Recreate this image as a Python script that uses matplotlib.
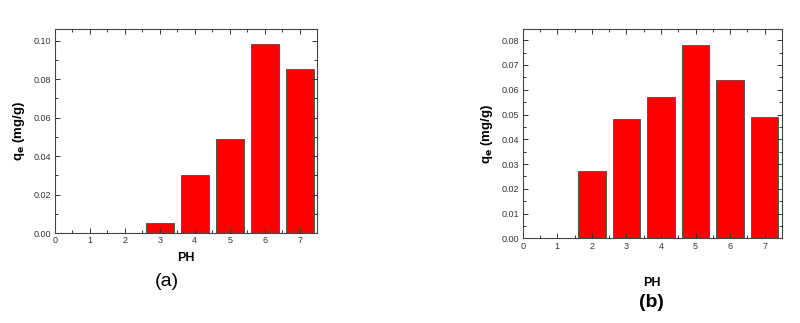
import matplotlib
matplotlib.use("Agg")
import matplotlib.pyplot as plt
from matplotlib.ticker import MultipleLocator, FormatStrFormatter

plt.rcParams["font.family"] = ["Liberation Sans", "DejaVu Sans"]

# panel (a)
ph_a = [3, 4, 5, 6, 7]
qe_a = [0.005, 0.030, 0.049, 0.098, 0.085]
# panel (b)
ph_b = [2, 3, 4, 5, 6, 7]
qe_b = [0.027, 0.048, 0.057, 0.078, 0.064, 0.049]

xticks = [0, 1, 2, 3, 4, 5, 6, 7]

fig = plt.figure(figsize=(8, 3.23), dpi=100)
ax_a = fig.add_axes([0.06875, 0.2786, 0.3275, 0.6316])
ax_b = fig.add_axes([0.6534, 0.2622, 0.324, 0.647])


def style(ax, ymax, major, minor, fmt):
    ax.set_xlim(0, 7.5)
    ax.set_ylim(0, ymax)
    ax.set_xticks(xticks)
    ax.xaxis.set_minor_locator(MultipleLocator(0.5))
    ax.yaxis.set_major_locator(MultipleLocator(major))
    ax.yaxis.set_minor_locator(MultipleLocator(minor))
    ax.yaxis.set_major_formatter(FormatStrFormatter(fmt))
    ax.tick_params(which="both", direction="in", top=True, right=True,
                   labelsize=6.5, colors="#333333", width=0.7)
    ax.tick_params(which="major", length=3.5, pad=2.5)
    ax.tick_params(which="minor", length=2)
    for s in ax.spines.values():
        s.set_color("#444444")
        s.set_linewidth(0.8)


ax_a.bar(ph_a, qe_a, width=0.8, color="#ff0000", edgecolor="#555555", linewidth=0.7)
style(ax_a, 0.106, 0.02, 0.01, "%.2f")
ax_a.set_xlabel("PH", fontsize=9, fontweight="bold", labelpad=5)
ax_a.set_ylabel("q$_\\mathbf{e}$ (mg/g)", fontsize=9.5, fontweight="bold", labelpad=5)
fig.text(0.2085, 0.128, "(a)", fontsize=14, ha="center", va="center")

ax_b.bar(ph_b, qe_b, width=0.8, color="#ff0000", edgecolor="#555555", linewidth=0.7)
style(ax_b, 0.0844, 0.01, 0.005, "%.2f")
ax_b.set_xlabel("PH", fontsize=9, fontweight="bold", labelpad=19)
ax_b.set_ylabel("q$_\\mathbf{e}$ (mg/g)", fontsize=9.5, fontweight="bold", labelpad=5)
fig.text(0.814, 0.063, "(b)", fontsize=14, fontweight="bold", ha="center", va="center")

plt.savefig("out.png", dpi=100)
plt.close(fig)
